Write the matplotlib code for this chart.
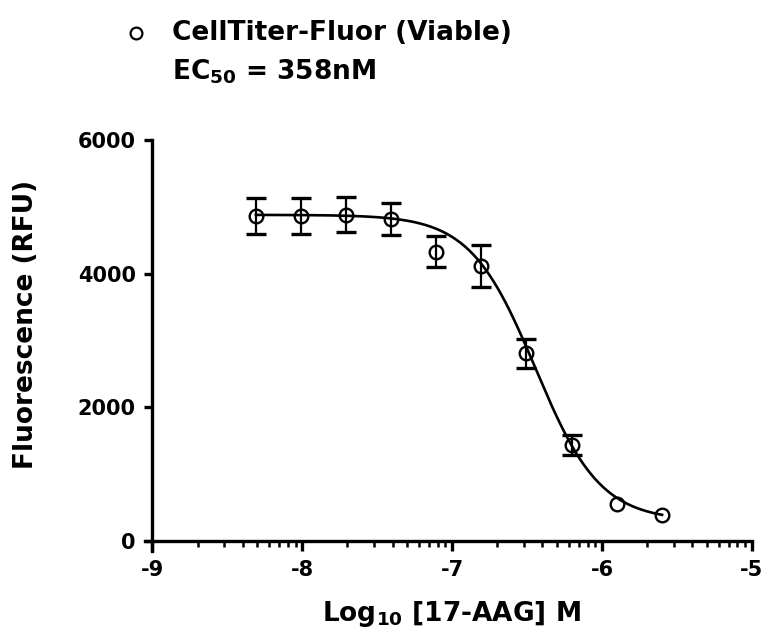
import numpy as np
import matplotlib
matplotlib.use("Agg")
import matplotlib.pyplot as plt
from matplotlib.lines import Line2D
from matplotlib.ticker import FixedLocator

plt.rcParams['font.family'] = ['DejaVu Sans']
plt.rcParams['font.weight'] = 'bold'
plt.rcParams['axes.unicode_minus'] = False
plt.rcParams['mathtext.fontset'] = 'custom'
plt.rcParams['mathtext.rm'] = 'DejaVu Sans:bold'
plt.rcParams['mathtext.it'] = 'DejaVu Sans:bold'
plt.rcParams['mathtext.bf'] = 'DejaVu Sans:bold'

# ---- data ----
log_conc = [-8.31, -8.01, -7.71, -7.41, -7.11, -6.81, -6.51, -6.20, -5.90, -5.60]
rfu_mean = [4866, 4866, 4881, 4821, 4328, 4109, 2806, 1433, 552, 388]
rfu_sem = [266, 266, 260, 240, 230, 315, 213, 150, 60, 40]

# 4-parameter logistic fit parameters
fit_top = 4880
fit_bottom = 300
fit_log_ec50 = np.log10(358e-9)
fit_hill = 2.0

x_ticks = [-9, -8, -7, -6, -5]
y_ticks = [0, 2000, 4000, 6000]

legend_label = 'CellTiter-Fluor (Viable)'
ec50_label = r'EC$_{50}$ = 358nM'
x_label = r'Log$_{10}$ [17-AAG] M'
y_label = 'Fluorescence (RFU)'

# ---- figure ----
W, H = 777, 639
fig = plt.figure(figsize=(W / 100, H / 100), dpi=100)
left_px, right_px, top_px, bottom_px = 145, 752, 140, 551
ax = fig.add_axes([left_px / W, 1 - bottom_px / H,
                   (right_px - left_px) / W, (bottom_px - top_px) / H])
ax.set_xlim(-9.05, -5.0)
ax.set_ylim(-150, 6000)

xs = np.linspace(log_conc[0], log_conc[-1], 300)
ys = fit_bottom + (fit_top - fit_bottom) / (1 + 10 ** ((xs - fit_log_ec50) * fit_hill))
ax.plot(xs, ys, color='black', lw=1.9, zorder=3, clip_on=False)

# error bars shorter than the symbol are hidden (as in the original)
x_arr = np.array(log_conc)
y_arr = np.array(rfu_mean)
e_arr = np.array(rfu_sem)
show = e_arr > 100
ax.errorbar(x_arr[show], y_arr[show], yerr=e_arr[show], fmt='none', ecolor='black',
            elinewidth=1.6, capsize=7, capthick=2.4, zorder=4, clip_on=False)
ax.plot(x_arr, y_arr, linestyle='none', marker='o', mfc='none', mec='black',
        ms=9.8, mew=1.7, zorder=5, clip_on=False)

for s in ['top', 'right']:
    ax.spines[s].set_visible(False)
ax.spines['bottom'].set_position(('data', 0))
ax.spines['left'].set_position(('data', -9))
ax.spines['left'].set_bounds(-150, 6000)
ax.spines['bottom'].set_bounds(-9.05, -5.0)
for s in ['bottom', 'left']:
    ax.spines[s].set_linewidth(2.4)

ax.set_xticks(x_ticks)
ax.set_xticklabels([str(t) for t in x_ticks])
minor = []
for d in x_ticks[:-1]:
    for k in range(2, 10):
        minor.append(d + np.log10(k))
ax.xaxis.set_minor_locator(FixedLocator(minor))
ax.set_yticks(y_ticks)
ax.set_yticklabels([str(t) for t in y_ticks])

ax.tick_params(axis='both', which='major', direction='out', length=6,
               width=2.4, labelsize=15, pad=6)
ax.tick_params(axis='x', which='major', length=7, pad=7)
ax.tick_params(axis='x', which='minor', direction='out', length=4.5, width=1.8)
for lab in ax.get_xticklabels() + ax.get_yticklabels():
    lab.set_fontweight('bold')

ax.set_xlabel(x_label, fontsize=19, fontweight='bold')
ax.set_ylabel(y_label, fontsize=19, fontweight='bold')
ax.xaxis.set_label_coords(0.505, -0.118)
ax.yaxis.set_label_coords(-0.175, 0.552)

# legend block
fig.add_artist(Line2D([136 / W], [1 - 33 / H], transform=fig.transFigure,
                      marker='o', ms=8.5, mfc='none', mec='black', mew=1.6,
                      linestyle='none'))
fig.text(172 / W, 1 - 33 / H, legend_label, fontsize=19, fontweight='bold',
         va='center', ha='left')
fig.text(172 / W, 1 - 72 / H, ec50_label, fontsize=19, fontweight='bold',
         va='center', ha='left')

fig.savefig('out.png', dpi=100, facecolor='white')
